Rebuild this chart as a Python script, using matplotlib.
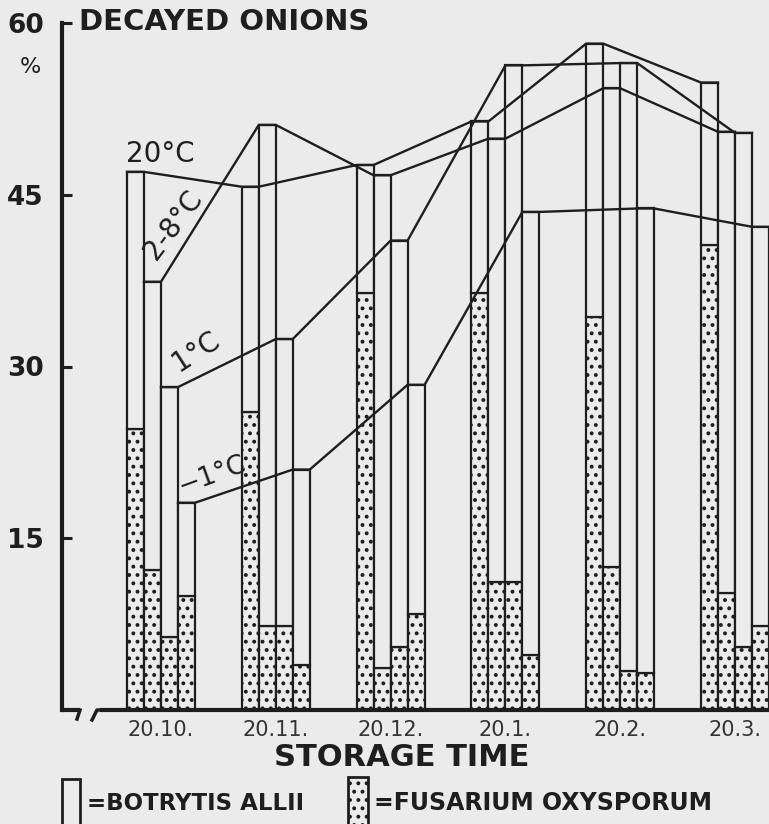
import numpy as np
import matplotlib
matplotlib.use('Agg')
import matplotlib.pyplot as plt
from matplotlib.patches import Rectangle
from matplotlib import rcParams

# 配置
config = {
    "font.family": ['DejaVu Sans'],
    "hatch.linewidth": 1.6,
}
rcParams.update(config)

INK = '#1e1e1e'
PAPER = '#ebebeb'

# data (% decayed onions)
dates = ['20.10.', '20.11.', '20.12.', '20.1.', '20.2.', '20.3.']
temps = ['20°C', '2-8°C', '1°C', '−1°C']

total_20 = [47.0, 45.7, 47.6, 51.4, 58.2, 54.8]
fus_20 = [24.5, 26.0, 36.4, 36.4, 34.3, 40.6]
total_28 = [37.4, 51.1, 46.7, 49.9, 54.3, 50.5]
fus_28 = [12.2, 7.3, 3.7, 11.2, 12.5, 10.2]
total_1 = [28.2, 32.4, 41.0, 56.3, 56.5, 50.4]
fus_1 = [6.4, 7.3, 5.5, 11.2, 3.4, 5.5]
total_m1 = [18.1, 21.0, 28.4, 43.5, 43.8, 42.2]
fus_m1 = [10.0, 3.9, 8.4, 4.8, 3.2, 7.3]

totals = [total_20, total_28, total_1, total_m1]
fusarium = [fus_20, fus_28, fus_1, fus_m1]


def main():
    W, H = 769, 824
    fig = plt.figure(figsize=(W / 100, H / 100), dpi=100, facecolor=PAPER)

    # axes box in pixels of the reference
    x0, x1, y0, y1 = 62, 769, 710, 23
    ax = fig.add_axes([x0 / W, 1 - y0 / H, (x1 - x0) / W, (y0 - y1) / H])
    ax.set_facecolor(PAPER)

    gstep = 114.8          # px between group centres
    gfirst = 161           # px of first group centre
    ax.set_xlim((x0 - gfirst) / gstep, (x1 - gfirst) / gstep)
    ax.set_ylim(0, 60)

    w = 17 / gstep
    groups = np.arange(len(dates))

    for s in range(4):
        tot = np.array(totals[s])
        fus = np.array(fusarium[s])
        xs = groups + (s - 1.5) * w
        ax.bar(xs, fus, width=w, bottom=0, facecolor=PAPER, edgecolor=INK,
               linewidth=1.6, hatch='..', zorder=2)
        ax.bar(xs, tot - fus, width=w, bottom=fus, facecolor=PAPER,
               edgecolor=INK, linewidth=1.6, zorder=2)
        # line joining the bar tops of one temperature
        lx, ly = [], []
        for x, t in zip(xs, tot):
            lx += [x - w / 2, x + w / 2]
            ly += [t, t]
        ax.plot(lx, ly, color=INK, linewidth=1.7, zorder=3)

    # temperature labels
    ax.text((126 - gfirst) / gstep, 47.9, temps[0], fontsize=20, color=INK,
            ha='left', va='baseline')
    ax.text((173 - gfirst) / gstep, 42.4, temps[1], fontsize=20, color=INK,
            ha='center', va='center', rotation=53)
    ax.text((196 - gfirst) / gstep, 31.3, temps[2], fontsize=20, color=INK,
            ha='center', va='center', rotation=33)
    ax.text((212 - gfirst) / gstep, 20.5, temps[3], fontsize=19, color=INK,
            ha='center', va='center', rotation=20)

    # axes styling
    for side in ['top', 'right', 'bottom']:
        ax.spines[side].set_visible(False)
    ax.spines['left'].set_linewidth(3)
    ax.spines['left'].set_color(INK)
    ax.set_yticks([15, 30, 45, 60])
    ax.tick_params(axis='y', direction='in', length=7, width=2.2, color=INK,
                   labelsize=19, labelcolor=INK, pad=13)
    for lab in ax.get_yticklabels():
        lab.set_fontweight('bold')
    ax.set_xticks(groups)
    ax.set_xticklabels(dates)
    ax.tick_params(axis='x', length=0, labelsize=15, labelcolor='#333333', pad=7)

    # baseline with a break mark
    bx = lambda px: (px - x0) / (x1 - x0)
    ax.plot([0, bx(80)], [0, 0], transform=ax.transAxes, color=INK,
            linewidth=3, clip_on=False, solid_capstyle='butt')
    ax.plot([bx(80), bx(77)], [0, -9 / (y0 - y1)], transform=ax.transAxes,
            color=INK, linewidth=2.5, clip_on=False)
    ax.plot([bx(92), bx(97), bx(100)], [-10 / (y0 - y1), 0, 0],
            transform=ax.transAxes, color=INK, linewidth=2.5, clip_on=False)
    ax.plot([bx(100), 1], [0, 0], transform=ax.transAxes, color=INK,
            linewidth=3, clip_on=False, solid_capstyle='butt')

    # titles
    fig.text(79 / W, 1 - 22 / H, 'DECAYED ONIONS', fontsize=21, fontweight='bold',
             color=INK, ha='left', va='center')
    fig.text(30 / W, 1 - 67 / H, '%', fontsize=16, color=INK, ha='center', va='center')
    fig.text(402 / W, 1 - 757 / H, 'STORAGE TIME', fontsize=22, fontweight='bold',
             color=INK, ha='center', va='center')

    # legend
    fig.patches.append(Rectangle((62 / W, -0.02), 18 / W, (824 - 779) / H + 0.02,
                                 transform=fig.transFigure, facecolor=PAPER,
                                 edgecolor=INK, linewidth=2))
    fig.text(87 / W, 1 - 803 / H, '=BOTRYTIS ALLII', fontsize=16.5, fontweight='bold',
             color=INK, ha='left', va='center')
    fig.patches.append(Rectangle((348 / W, -0.02), 20 / W, (824 - 777) / H + 0.02,
                                 transform=fig.transFigure, facecolor=PAPER,
                                 edgecolor=INK, linewidth=2, hatch='..'))
    fig.text(374 / W, 1 - 803 / H, '=FUSARIUM OXYSPORUM', fontsize=17,
             fontweight='bold', color=INK, ha='left', va='center')

    fig.savefig('out.png', dpi=100, facecolor=PAPER)


if __name__ == '__main__':
    main()
